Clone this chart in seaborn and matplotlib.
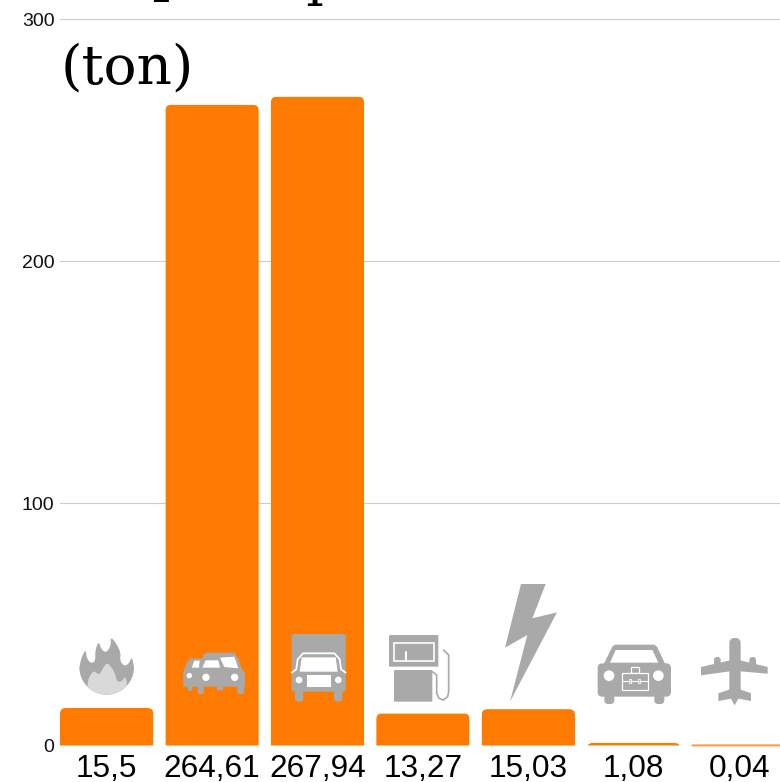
import matplotlib.pyplot as plt
import numpy as np
import pandas as pd
import seaborn as sns
from matplotlib.patches import Circle, FancyBboxPatch, Polygon, Rectangle
from matplotlib.transforms import IdentityTransform

# values as printed under the bars
values = [15.5, 264.61, 267.94, 13.27, 15.03, 1.08, 0.04]
value_labels = ["15,5", "264,61", "267,94", "13,27", "15,03", "1,08", "0,04"]
y_ticks = [0, 100, 200, 300]
title_parts = ["CO", "2", "Output", "(ton)"]

ORANGE = "#ff7a00"
GREY = "#a9a9a9"
LIGHT = "#d9d9d9"

sns.set_theme(style="white")
plt.rcParams["font.family"] = ["Liberation Sans", "DejaVu Sans"]

fig = plt.figure(figsize=(7.8, 7.82), dpi=100)
ax = fig.add_axes([60 / 780, (782 - 745.5) / 782, 720 / 780, 726.5 / 782])

df = pd.DataFrame({"label": value_labels, "value": values})
sns.barplot(data=df, x="label", y="value", color=ORANGE, saturation=1, width=0.886, ax=ax, zorder=3)

ax.set_xlim(-0.443, 6.388)
ax.set_ylim(0, 300)
ax.set_yticks(y_ticks)
ax.set_xlabel("")
ax.set_ylabel("")
ax.grid(axis="y", color="#cccccc", linewidth=0.8)
ax.set_axisbelow(True)
ax.tick_params(axis="y", length=0, pad=4, labelsize=14, labelcolor="#111111")
ax.tick_params(axis="x", length=0, pad=6, labelsize=22.7, labelcolor="black")
sns.despine(ax=ax, left=True, top=True, right=True, bottom=True)

# round the top corners of the bars
fig.canvas.draw()
for bar in ax.patches:
    bar.set_snap(False)
    bar.set_linewidth(0)
    box = bar.get_window_extent()
    if box.height < 1:
        bar.set_edgecolor("#ff9a40")
        bar.set_linewidth(1.1)
        bar.set_clip_on(False)
        continue
    rounded = FancyBboxPatch(
        (box.x0, box.y0 - 20),
        box.width,
        box.height + 20,
        boxstyle="round,pad=0,rounding_size=6",
        transform=IdentityTransform(),
    )
    bar.set_clip_path(rounded)

# overlay in picture pixels for the title and the icons
top = fig.add_axes([0, 0, 1, 1], facecolor="none", zorder=5)
top.set_xlim(0, 780)
top.set_ylim(782, 0)
top.axis("off")

top.text(62, -5.4, title_parts[0], family="DejaVu Serif", fontsize=39.5, color="black", clip_on=False)
top.text(151, 2, title_parts[1], family="DejaVu Serif", weight="bold", fontsize=20, color="black", clip_on=False)
top.text(205, -5.4, title_parts[2], family="DejaVu Serif", fontsize=39.5, color="black", clip_on=False)
top.text(61, 84, title_parts[3], family="DejaVu Serif", fontsize=39.5, color="black", clip_on=False)


def pts(ox, oy, coords):
    return [(ox + x / 3, oy + y / 3) for x, y in coords]


def soften(coords):
    # one pass of corner cutting so the flame is not spiky
    out = []
    for (x0, y0), (x1, y1) in zip(coords, coords[1:]):
        out.append((0.75 * x0 + 0.25 * x1, 0.75 * y0 + 0.25 * y1))
        out.append((0.25 * x0 + 0.75 * x1, 0.25 * y0 + 0.75 * y1))
    return out


def poly(ox, oy, coords, color=GREY, **kw):
    patch = Polygon(pts(ox, oy, coords), closed=True, facecolor=color, edgecolor="none", **kw)
    top.add_patch(patch)
    return patch


def line(ox, oy, coords, color="white", lw=1.0):
    xy = np.array(pts(ox, oy, coords))
    top.plot(xy[:, 0], xy[:, 1], color=color, lw=lw, solid_joinstyle="round", solid_capstyle="round")


def dot(ox, oy, x, y, r, color="white"):
    top.add_patch(Circle((ox + x / 3, oy + y / 3), r / 3, facecolor=color, edgecolor="none"))


def rbox(ox, oy, x0, y0, x1, y1, r=6, color=GREY):
    top.add_patch(
        FancyBboxPatch(
            (ox + x0 / 3, oy + y0 / 3),
            (x1 - x0) / 3,
            (y1 - y0) / 3,
            boxstyle=f"round,pad=0,rounding_size={r / 3}",
            facecolor=color,
            edgecolor="none",
        )
    )


def frame(ox, oy, x0, y0, x1, y1, lw=0.9):
    top.add_patch(
        Rectangle((ox + x0 / 3, oy + y0 / 3), (x1 - x0) / 3, (y1 - y0) / 3, facecolor=GREY, edgecolor="white", linewidth=lw)
    )


# fire
ox, oy = 70, 630
angles = np.radians(np.arange(0, 181, 6))
arc = [(110 + 82 * np.cos(a), 112 + 82 * np.sin(a)) for a in angles]
flame = [(28, 112), (34, 84), (47, 58), (50, 84), (62, 100), (76, 94), (76, 60), (86, 34), (94, 58), (108, 68),
         (122, 50), (122, 20), (140, 42), (152, 68), (150, 92), (162, 108), (176, 102), (186, 80), (192, 112)]
poly(ox, oy, arc + soften(flame))
inner = poly(ox, oy, soften([(50, 200), (54, 150), (62, 134), (72, 122), (88, 136), (100, 112), (112, 98), (124, 112),
                             (134, 128), (142, 156), (156, 154), (168, 136), (174, 200), (50, 200)]), color=LIGHT)
inner.set_clip_path(Circle((ox + 110 / 3, oy + 112 / 3), 82 / 3, transform=top.transData))

# two cars
ox, oy = 175, 645
poly(ox, oy, [(25, 125), (25, 80), (38, 48), (48, 40), (80, 40), (80, 125)])
rbox(ox, oy, 38, 120, 52, 138, r=5)
poly(ox, oy, [(50, 68), (58, 47), (74, 47), (72, 68)], color="white")
dot(ox, oy, 43, 92, 8)
poly(ox, oy, [(60, 125), (60, 85), (72, 75), (86, 28), (95, 23), (178, 23), (190, 40), (200, 72), (210, 85),
              (210, 125)])
poly(ox, oy, [(82, 68), (92, 46), (130, 46), (135, 68)], color="white")
poly(ox, oy, [(135, 38), (178, 35), (190, 70), (148, 66)], color="white")
rbox(ox, oy, 68, 122, 86, 147, r=6)
rbox(ox, oy, 125, 122, 145, 136, r=6)
rbox(ox, oy, 187, 122, 208, 147, r=6)
dot(ox, oy, 93, 97, 11)
dot(ox, oy, 179, 97, 11)

# truck
ox, oy = 285, 630
rbox(ox, oy, 20, 12, 182, 185, r=8)
poly(ox, oy, [(50, 82), (152, 82), (158, 125), (44, 125)], color="white")
line(ox, oy, [(20, 128), (34, 118), (38, 88), (54, 70), (148, 70), (164, 88), (168, 118), (182, 128)], lw=1.3)
rbox(ox, oy, 30, 180, 55, 215, r=10)
rbox(ox, oy, 147, 180, 172, 215, r=10)
dot(ox, oy, 42, 150, 10)
dot(ox, oy, 160, 150, 10)
top.add_patch(Rectangle((ox + 65 / 3, oy + 135 / 3), 73 / 3, 35 / 3, facecolor="white", edgecolor="none"))

# fuel pump
ox, oy = 385, 630
rbox(ox, oy, 12, 15, 160, 110, r=3)
frame(ox, oy, 26, 38, 146, 92, lw=1.2)
line(ox, oy, [(62, 65), (62, 90)], lw=1.5)
rbox(ox, oy, 27, 120, 142, 215, r=3)
line(ox, oy, [(142, 125), (155, 135), (155, 190), (162, 205), (175, 210), (188, 200), (191, 185), (191, 75),
              (176, 60)], color=GREY, lw=1.2)

# lightning
ox, oy = 370, 575
poly(ox, oy, [(453, 27), (527, 27), (487, 130), (561, 112), (420, 380), (472, 180), (405, 218)])

# company car
ox, oy = 595, 640
poly(ox, oy, [(25, 75), (52, 20), (60, 14), (178, 14), (186, 20), (212, 75)])
rbox(ox, oy, 8, 70, 228, 170, r=14)
rbox(ox, oy, 28, 160, 58, 192, r=12)
rbox(ox, oy, 178, 160, 208, 192, r=12)
poly(ox, oy, [(62, 30), (172, 30), (190, 68), (45, 68)], color="white")
dot(ox, oy, 42, 107, 16)
dot(ox, oy, 190, 107, 16)
frame(ox, oy, 108, 82, 133, 98)
frame(ox, oy, 80, 98, 158, 150)
line(ox, oy, [(80, 122), (158, 122)], lw=0.8)
frame(ox, oy, 102, 116, 108, 129, lw=0.6)
frame(ox, oy, 130, 116, 136, 129, lw=0.6)

# plane
ox, oy = 695, 632
rbox(ox, oy, 103, 18, 137, 195, r=16)
poly(ox, oy, [(18, 105), (105, 85), (135, 85), (218, 105), (218, 125), (135, 118), (105, 118), (18, 130)])
rbox(ox, oy, 57, 75, 77, 105, r=9)
rbox(ox, oy, 163, 75, 183, 105, r=9)
poly(ox, oy, [(70, 184), (105, 172), (135, 172), (168, 184), (168, 207), (130, 200), (119, 220), (108, 200), (70, 207)])

fig.savefig("out.png", dpi=100)
